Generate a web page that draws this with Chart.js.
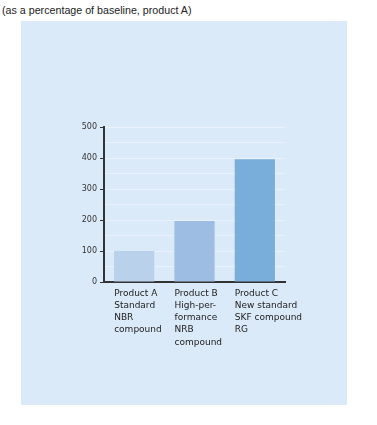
<!DOCTYPE html>
<html>
<head>
<meta charset="utf-8">
<script src="https://cdn.jsdelivr.net/npm/chart.js@4/dist/chart.umd.min.js"></script>
<style>
  body { margin: 0; background: #fff; width: 377px; height: 425px; position: relative; font-family: "Liberation Sans", Arial, sans-serif; }
  #titre { position: absolute; left: 2px; top: 4px; font-size: 10.7px; color: #222; }
  #panneau { position: absolute; left: 21px; top: 21px; width: 326px; height: 384px; background: #dbeaf8; }
</style>
</head>
<body>
<div id="titre">(as a percentage of baseline, product A)</div>
<div id="panneau"><canvas id="myChart" width="326" height="384"></canvas></div>
<script>
// données
const categories = [
    ['Product A', 'Standard', 'NBR', 'compound'],
    ['Product B', 'High-per-', 'formance', 'NRB', 'compound'],
    ['Product C', 'New standard', 'SKF compound', 'RG']
];
const valeurs = [100, 197, 396];
const couleurs = ['#b9d1eb', '#9dbee2', '#79aedb'];
const yTicks = [0, 100, 200, 300, 400, 500];

const ctx = document.getElementById('myChart').getContext('2d');
const myChart = new Chart(ctx, {
    type: 'bar',
    data: {
        labels: categories,
        datasets: [{
            data: valeurs,
            backgroundColor: couleurs,
            borderWidth: 0,
            barPercentage: 0.667,
            categoryPercentage: 1
        }]
    },
    options: {
        responsive: false,
        animation: false,
        layout: { padding: { top: 106, right: 62, left: 0, bottom: 0 } },
        plugins: { legend: { display: false }, tooltip: { enabled: false } },
        scales: {
            x: {
                border: { color: '#333', width: 2 },
                grid: {
                    drawTicks: false,
                    color: c => c.index === categories.length ? '#e9f2fc' : 'rgba(0,0,0,0)'
                },
                ticks: {
                    align: 'start',
                    labelOffset: -20,
                    padding: 5,
                    maxRotation: 0,
                    minRotation: 0,
                    autoSkip: false,
                    color: '#222',
                    font: { family: 'DejaVu Sans', size: 9, lineHeight: 1.37 }
                },
                afterFit: s => { s.height = 123; }
            },
            y: {
                min: 0,
                max: 500,
                border: { color: '#333', width: 2 },
                grid: {
                    color: '#e9f2fc',
                    tickLength: 4,
                    tickColor: c => yTicks.includes(c.tick.value) ? '#333' : 'rgba(0,0,0,0)'
                },
                ticks: {
                    stepSize: 50,
                    padding: 3,
                    color: '#333',
                    font: { family: 'DejaVu Sans', size: 8 },
                    callback: v => yTicks.includes(v) ? v : ''
                },
                afterFit: s => { s.width = 83; }
            }
        }
    }
});
</script>
</body>
</html>
